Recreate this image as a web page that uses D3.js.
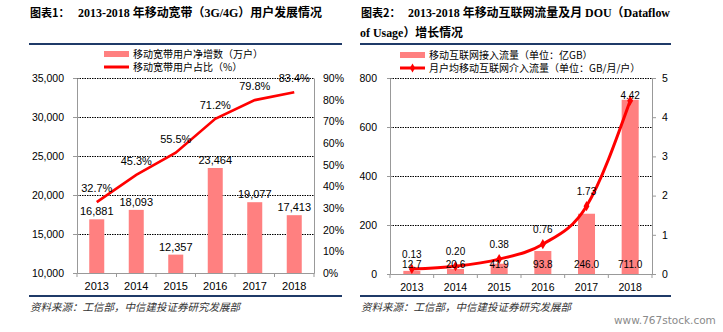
<!DOCTYPE html>
<html>
<head>
<meta charset="utf-8">
<script src="https://cdn.jsdelivr.net/npm/d3@7/dist/d3.min.js"></script>
<style>
  body { margin: 0; background: #fff; }
  svg { display: block; }
  .cjk { font-family: "Noto Sans CJK SC", sans-serif; }
</style>
</head>
<body>
<div id="chart"></div>
<script>
// chart 1: mobile broadband users
var years = ["2013", "2014", "2015", "2016", "2017", "2018"];
var netAdds = [16881, 18093, 12357, 23464, 19077, 17413];
var userShare = [32.7, 45.3, 55.5, 71.2, 79.8, 83.4];
var leftTicks1 = [10000, 15000, 20000, 25000, 30000, 35000];
var rightTicks1 = [0, 10, 20, 30, 40, 50, 60, 70, 80, 90];

// chart 2: mobile internet traffic and DOU
var traffic = [12.7, 20.6, 41.9, 93.8, 246.0, 711.0];
var dou = [0.13, 0.20, 0.38, 0.76, 1.73, 4.42];
var leftTicks2 = [0, 200, 400, 600, 800];
var rightTicks2 = [0, 1, 2, 3, 4, 5];

var W = 723, H = 332;
var navy = "#1f3a68", barColor = "#ff8080", lineColor = "#ff0000", axisColor = "#999";
var latin = "'Liberation Sans', Arial, sans-serif";

var svg = d3.select("#chart").append("svg")
    .attr("width", W)
    .attr("height", H);

// title text: CJK runs in a bold gothic face, the rest in a bold serif
function titleLine(x, y, label, text, textX, width) {
    var t = svg.append("text")
        .attr("x", x).attr("y", y)
        .style("font-size", "12px")
        .style("font-weight", "bold")
        .style("font-family", "'Liberation Serif', serif")
        .attr("fill", "#000");
    if (label) {
        t.append("tspan").attr("class", "cjk").style("font-size", "11px").text(label);
    }
    var body = t.append("tspan").attr("x", textX)
        .attr("textLength", width).attr("lengthAdjust", "spacingAndGlyphs");
    text.split(/([\u3000-\u9fff\uff00-\uffef]+)/).forEach(function(run) {
        if (!run) return;
        var s = body.append("tspan").text(run);
        if (/[\u3000-\u9fff\uff00-\uffef]/.test(run)) s.attr("class", "cjk");
    });
}

// --- frames: rules and sources ---
function frame(x0, x1) {
    svg.append("line").attr("x1", x0).attr("x2", x1).attr("y1", 44).attr("y2", 44)
        .attr("stroke", navy).attr("stroke-width", 2);
    svg.append("line").attr("x1", x0).attr("x2", x1).attr("y1", 296).attr("y2", 296)
        .attr("stroke", navy).attr("stroke-width", 2);
    svg.append("text")
        .attr("class", "cjk")
        .attr("x", x0 + 1).attr("y", 311)
        .style("font-size", "10.5px")
        .style("font-style", "italic")
        .attr("fill", "#333")
        .text("资料来源：工信部，中信建投证券研究发展部");
}

frame(29, 342);
frame(360, 671);
titleLine(30, 17, "图表1：", "2013-2018 年移动宽带（3G/4G）用户发展情况", 78, 244);
titleLine(361, 17, "图表2：", "2013-2018 年移动互联网流量及月 DOU（Dataflow", 408, 262);
titleLine(360, 37, null, "of Usage）增长情况", 360, 103);

svg.append("text")
    .attr("x", 614).attr("y", 324)
    .style("font-size", "10.5px")
    .style("font-family", "'DejaVu Sans', sans-serif")
    .attr("fill", "#8a8a8a")
    .text("www.767stock.com");

// --- shared pieces ---
function legend(x, y, barText, lineText, marker) {
    svg.append("rect").attr("x", x).attr("y", y - 3).attr("width", 25).attr("height", 6)
        .attr("fill", barColor);
    svg.append("text").attr("class", "cjk").attr("x", x + 29).attr("y", y + 3.5)
        .style("font-size", "10px").attr("fill", "#000").text(barText);
    svg.append("line").attr("x1", x).attr("x2", x + 25).attr("y1", y + 13).attr("y2", y + 13)
        .attr("stroke", lineColor).attr("stroke-width", 3);
    if (marker) {
        svg.append("path").attr("d", d3.symbol(d3.symbolDiamond, 24)())
            .attr("transform", "translate(" + (x + 12.5) + "," + (y + 13) + ")")
            .attr("fill", lineColor);
    }
    svg.append("text").attr("class", "cjk").attr("x", x + 29).attr("y", y + 16.5)
        .style("font-size", "10px").attr("fill", "#000").text(lineText);
}

function grid(g, ticks, y, x0, x1) {
    g.selectAll(".grid").data(ticks.slice(1)).enter().append("line")
        .attr("x1", x0).attr("x2", x1)
        .attr("y1", function(d) { return Math.round(y(d)) + 0.5; })
        .attr("y2", function(d) { return Math.round(y(d)) + 0.5; })
        .attr("stroke", "#000").attr("stroke-width", 1)
        .attr("stroke-dasharray", "1.5,1");
}

function styleAxis(sel, fontSize, font) {
    sel.select(".domain").attr("stroke", axisColor);
    sel.selectAll(".tick line").attr("stroke", axisColor);
    sel.selectAll(".tick text").attr("fill", "#000")
        .style("font-size", fontSize).style("font-family", font);
}

// ===== chart 1 =====
(function() {
    var left = 77, right = 314, top = 78, bottom = 273;
    var g = svg.append("g");

    var x = d3.scaleBand().domain(years).range([left, right])
        .paddingInner(0.62).paddingOuter(0.31);
    var y = d3.scaleLinear().domain([10000, 35000]).range([bottom, top]);
    var y2 = d3.scaleLinear().domain([0, 90]).range([bottom, top]);

    legend(104, 54, "移动宽带用户净增数（万户）", "移动宽带用户占比（%）", false);

    grid(g, leftTicks1, y, left, right);

    // bars
    g.selectAll(".bar").data(netAdds).enter().append("rect")
        .attr("x", function(d, i) { return x(years[i]); })
        .attr("y", function(d) { return y(d); })
        .attr("width", x.bandwidth())
        .attr("height", function(d) { return bottom - y(d); })
        .attr("fill", barColor);

    // axes
    var ax = g.append("g").attr("transform", "translate(0," + bottom + ")")
        .call(d3.axisBottom(x).tickSize(0).tickPadding(9));
    styleAxis(ax, "11px", latin);
    var step = x.step();
    g.selectAll(".xt").data(d3.range(years.length + 1)).enter().append("line")
        .attr("x1", function(i) { return left + i * step; })
        .attr("x2", function(i) { return left + i * step; })
        .attr("y1", bottom).attr("y2", bottom + 4)
        .attr("stroke", axisColor);

    var ay = g.append("g").attr("transform", "translate(" + left + ",0)")
        .call(d3.axisLeft(y).tickValues(leftTicks1).tickSize(4).tickPadding(9)
            .tickFormat(d3.format(",")));
    styleAxis(ay, "10.5px", latin);

    var ay2 = g.append("g").attr("transform", "translate(" + right + ",0)")
        .call(d3.axisRight(y2).tickValues(rightTicks1).tickSize(0).tickPadding(9)
            .tickFormat(function(d) { return d + "%"; }));
    styleAxis(ay2, "10.5px", latin);

    // line
    var cx = function(i) { return x(years[i]) + x.bandwidth() / 2; };
    g.append("path").datum(userShare)
        .attr("d", d3.line().x(function(d, i) { return cx(i); }).y(function(d) { return y2(d); }))
        .attr("fill", "none").attr("stroke", lineColor).attr("stroke-width", 2.6);

    // labels
    g.selectAll(".bl").data(netAdds).enter().append("text")
        .attr("x", function(d, i) { return cx(i); })
        .attr("y", function(d) { return y(d) - 4; })
        .attr("text-anchor", "middle")
        .style("font-size", "11px").style("font-family", latin)
        .text(d3.format(","));
    g.selectAll(".ll").data(userShare).enter().append("text")
        .attr("x", function(d, i) { return cx(i); })
        .attr("y", function(d) { return y2(d) - 10; })
        .attr("text-anchor", "middle")
        .style("font-size", "11px").style("font-family", latin)
        .text(function(d) { return d.toFixed(1) + "%"; });
})();

// ===== chart 2 =====
(function() {
    var left = 390, right = 652, top = 78, bottom = 274;
    var g = svg.append("g");

    var x = d3.scaleBand().domain(years).range([left, right])
        .paddingInner(0.61).paddingOuter(0.305);
    var y = d3.scaleLinear().domain([0, 800]).range([bottom, top]);
    var y2 = d3.scaleLinear().domain([0, 5]).range([bottom, top]);

    legend(400, 55, "移动互联网接入流量（单位：亿GB）", "月户均移动互联网介入流量（单位：GB/月/户）", true);

    grid(g, leftTicks2, y, left, right);

    g.selectAll(".bar").data(traffic).enter().append("rect")
        .attr("x", function(d, i) { return x(years[i]); })
        .attr("y", function(d) { return y(d); })
        .attr("width", x.bandwidth())
        .attr("height", function(d) { return bottom - y(d); })
        .attr("fill", barColor);

    var ax = g.append("g").attr("transform", "translate(0," + bottom + ")")
        .call(d3.axisBottom(x).tickSize(0).tickPadding(10));
    styleAxis(ax, "10.5px", latin);
    var step = x.step();
    g.selectAll(".xt").data(d3.range(years.length + 1)).enter().append("line")
        .attr("x1", function(i) { return left + i * step; })
        .attr("x2", function(i) { return left + i * step; })
        .attr("y1", bottom).attr("y2", bottom + 4)
        .attr("stroke", axisColor);

    var ay = g.append("g").attr("transform", "translate(" + left + ",0)")
        .call(d3.axisLeft(y).tickValues(leftTicks2).tickSize(3).tickPadding(10));
    styleAxis(ay, "10.5px", latin);

    var ay2 = g.append("g").attr("transform", "translate(" + right + ",0)")
        .call(d3.axisRight(y2).tickValues(rightTicks2).tickSize(4).tickPadding(6)
            .tickFormat(d3.format("d")));
    styleAxis(ay2, "10.5px", latin);

    var cx = function(i) { return x(years[i]) + x.bandwidth() / 2; };
    g.append("path").datum(dou)
        .attr("d", d3.line().curve(d3.curveMonotoneX)
            .x(function(d, i) { return cx(i); }).y(function(d) { return y2(d); }))
        .attr("fill", "none").attr("stroke", lineColor).attr("stroke-width", 3);
    g.selectAll(".mk").data(dou).enter().append("path")
        .attr("d", d3.symbol(d3.symbolDiamond, 30)())
        .attr("transform", function(d, i) { return "translate(" + cx(i) + "," + y2(d) + ")"; })
        .attr("fill", lineColor);

    g.selectAll(".bl").data(traffic).enter().append("text")
        .attr("x", function(d, i) { return cx(i); })
        .attr("y", bottom - 6)
        .attr("text-anchor", "middle")
        .style("font-size", "10px").style("font-family", latin)
        .text(function(d) { return d.toFixed(1); });
    g.selectAll(".ll").data(dou).enter().append("text")
        .attr("x", function(d, i) { return cx(i); })
        .attr("y", function(d) { return Math.max(y2(d) - 11, top + 21); })
        .attr("text-anchor", "middle")
        .style("font-size", "10px").style("font-family", latin)
        .text(function(d) { return d.toFixed(2); });
})();
</script>
</body>
</html>
